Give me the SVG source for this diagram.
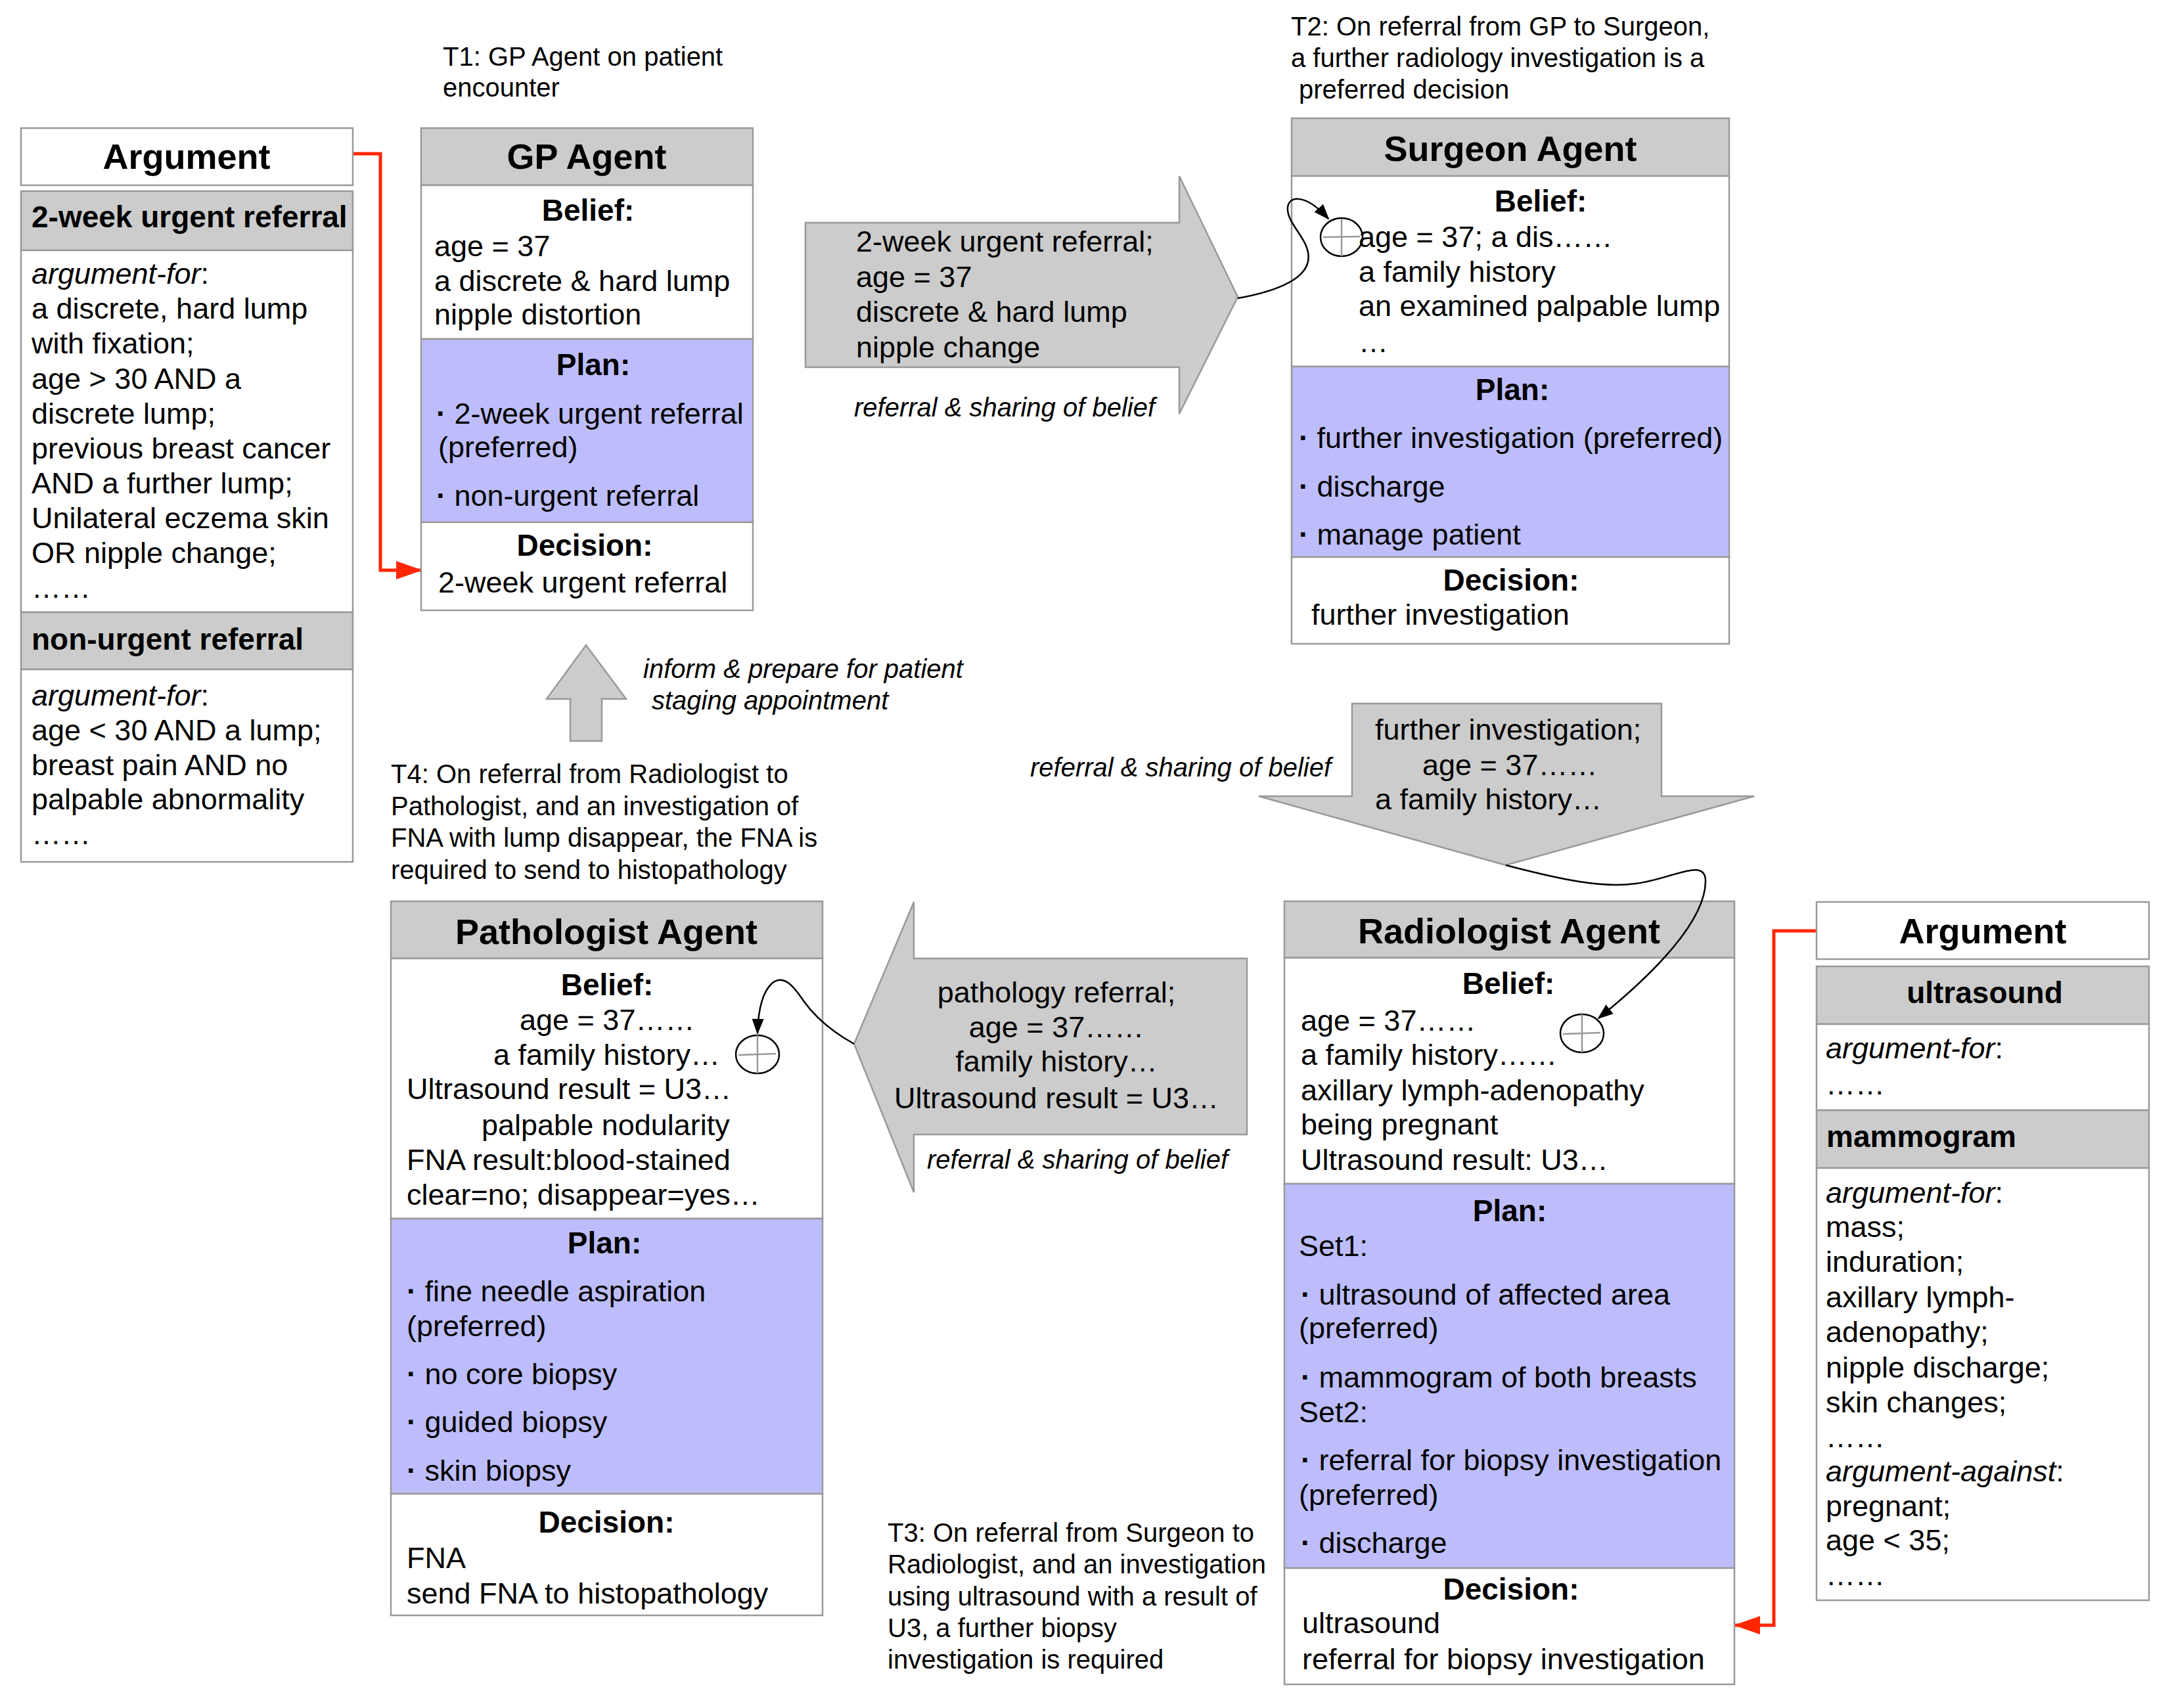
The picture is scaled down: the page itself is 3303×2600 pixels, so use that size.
<svg xmlns="http://www.w3.org/2000/svg" width="3303" height="2600" viewBox="0 0 3303 2600">
<style>
text{font-family:"Liberation Sans",Arial,Helvetica,sans-serif;font-size:45px;fill:#000}
.s{stroke:#999;stroke-width:2.5}
.h{fill:#ccc}
.w{fill:#fff}
.p{fill:#bdbdfb}
.t{font-size:54px;font-weight:bold;text-anchor:middle}
.b{font-size:46px;font-weight:bold}
.c{text-anchor:middle}
.i{font-style:italic}
.n{font-size:40px}
.d{font-weight:bold}
.red{fill:none;stroke:#ff2600;stroke-width:5}
.crv{fill:none;stroke:#000;stroke-width:2.5}
.blk{fill:#ccc;stroke:#999;stroke-width:2.5}
.cir{fill:none;stroke:#000;stroke-width:2.5}
.crs{stroke:#999;stroke-width:2.5}
</style>
<defs>
<marker id="ra" markerUnits="userSpaceOnUse" markerWidth="40" markerHeight="28" refX="38" refY="14" orient="auto"><path d="M0,0 L40,14 L0,28 z" fill="#ff2600"/></marker>
<marker id="ba" markerUnits="userSpaceOnUse" markerWidth="24" markerHeight="18" refX="22" refY="9" orient="auto"><path d="M0,0 L24,9 L0,18 z" fill="#000"/></marker>
</defs>
<rect width="3303" height="2600" fill="#fff"/>

<g id="notes">
<text class="n" x="674" y="100">T1: GP Agent on patient</text>
<text class="n" x="674" y="147">encounter</text>
<text class="n" x="1965" y="54">T2: On referral from GP to Surgeon,</text>
<text class="n" x="1965" y="102">a further radiology investigation is a</text>
<text class="n" x="1977" y="150">preferred decision</text>
<text class="n" x="1351" y="2347">T3: On referral from Surgeon to</text>
<text class="n" x="1351" y="2395">Radiologist, and an investigation</text>
<text class="n" x="1351" y="2444">using ultrasound with a result of</text>
<text class="n" x="1351" y="2492">U3, a further biopsy</text>
<text class="n" x="1351" y="2540">investigation is required</text>
<text class="n" x="595" y="1192">T4: On referral from Radiologist to</text>
<text class="n" x="595" y="1241">Pathologist, and an investigation of</text>
<text class="n" x="595" y="1289">FNA with lump disappear, the FNA is</text>
<text class="n" x="595" y="1338">required to send to histopathology</text>
</g>

<g id="connectors">
<polygon class="blk" points="1226,339 1795,339 1795,268 1884,452 1795,630 1795,559 1226,559"/>
<text x="1303" y="383">2-week urgent referral;</text>
<text x="1303" y="437">age = 37</text>
<text x="1303" y="490">discrete &amp; hard lump</text>
<text x="1303" y="544">nipple change</text>
<text class="n i" x="1300" y="634">referral &amp; sharing of belief</text>

<polygon class="blk" points="868,1128 868,1064 832,1064 892,982 953,1064 916,1064 916,1128"/>
<text class="n i" x="979" y="1032">inform &amp; prepare for patient</text>
<text class="n i" x="992" y="1080">staging appointment</text>

<polygon class="blk" points="2058,1071 2529,1071 2529,1212 2670,1212 2292,1317 1916,1212 2058,1212"/>
<text x="2093" y="1126">further investigation;</text>
<text x="2165" y="1180">age = 37……</text>
<text x="2093" y="1232">a family history…</text>
<text class="n i" x="1568" y="1182">referral &amp; sharing of belief</text>

<polygon class="blk" points="1898,1459 1391,1459 1391,1373 1300,1589 1391,1815 1391,1727 1898,1727"/>
<text class="c" x="1608" y="1526">pathology referral;</text>
<text class="c" x="1608" y="1579">age = 37……</text>
<text class="c" x="1608" y="1631">family history…</text>
<text class="c" x="1608" y="1687">Ultrasound result = U3…</text>
<text class="n i" x="1411" y="1779">referral &amp; sharing of belief</text>

<path class="red" d="M537,234 H579 V868 H641" marker-end="url(#ra)"/>
<path class="red" d="M2766,1417 H2700 V2474 H2641" marker-end="url(#ra)"/>
</g>

<g id="argument-left">
<rect class="s w" x="32" y="195" width="505" height="87"/>
<rect class="s h" x="32" y="291" width="505" height="90"/>
<rect class="s w" x="32" y="381" width="505" height="551"/>
<rect class="s h" x="32" y="932" width="505" height="87"/>
<rect class="s w" x="32" y="1019" width="505" height="293"/>
<text class="t" x="284" y="257">Argument</text>
<text class="b" x="48" y="346">2-week urgent referral</text>
<text x="48" y="432"><tspan class="i">argument-for</tspan>:</text>
<text x="48" y="485">a discrete, hard lump</text>
<text x="48" y="538">with fixation;</text>
<text x="48" y="592">age &gt; 30 AND a</text>
<text x="48" y="645">discrete lump;</text>
<text x="48" y="698">previous breast cancer</text>
<text x="48" y="751">AND a further lump;</text>
<text x="48" y="804">Unilateral eczema skin</text>
<text x="48" y="857">OR nipple change;</text>
<text x="48" y="910">……</text>
<text class="b" x="48" y="989">non-urgent referral</text>
<text x="48" y="1074"><tspan class="i">argument-for</tspan>:</text>
<text x="48" y="1127">age &lt; 30 AND a lump;</text>
<text x="48" y="1180">breast pain AND no</text>
<text x="48" y="1232">palpable abnormality</text>
<text x="48" y="1285">……</text>
</g>

<g id="gp-agent">
<rect class="s h" x="641" y="195" width="505" height="87"/>
<rect class="s w" x="641" y="282" width="505" height="234"/>
<rect class="s p" x="641" y="516" width="505" height="279"/>
<rect class="s w" x="641" y="795" width="505" height="134"/>
<text class="t" x="893" y="257">GP Agent</text>
<text class="b c" x="895" y="336">Belief:</text>
<text x="661" y="390">age = 37</text>
<text x="661" y="443">a discrete &amp; hard lump</text>
<text x="661" y="494">nipple distortion</text>
<text class="b c" x="903" y="571">Plan:</text>
<text x="664" y="645"><tspan class="d">·</tspan> 2-week urgent referral</text>
<text x="667" y="696">(preferred)</text>
<text x="664" y="770"><tspan class="d">·</tspan> non-urgent referral</text>
<text class="b c" x="890" y="846">Decision:</text>
<text x="667" y="902">2-week urgent referral</text>
</g>

<g id="surgeon-agent">
<rect class="s h" x="1966" y="180" width="666" height="88"/>
<rect class="s w" x="1966" y="268" width="666" height="290"/>
<rect class="s p" x="1966" y="558" width="666" height="290"/>
<rect class="s w" x="1966" y="848" width="666" height="132"/>
<text class="t" x="2299" y="245">Surgeon Agent</text>
<text class="b c" x="2345" y="322">Belief:</text>
<text x="2068" y="376">age = 37; a dis……</text>
<text x="2068" y="429">a family history</text>
<text x="2068" y="481">an examined palpable lump</text>
<text x="2068" y="536">…</text>
<text class="b c" x="2302" y="609">Plan:</text>
<text x="1977" y="682"><tspan class="d">·</tspan> further investigation (preferred)</text>
<text x="1977" y="756"><tspan class="d">·</tspan> discharge</text>
<text x="1977" y="829"><tspan class="d">·</tspan> manage patient</text>
<text class="b c" x="2300" y="899">Decision:</text>
<text x="1996" y="951">further investigation</text>
<ellipse class="cir" cx="2042" cy="361" rx="32" ry="29"/>
<line class="crs" x1="2014" y1="361" x2="2070" y2="360"/>
<line class="crs" x1="2042" y1="333" x2="2042" y2="390"/>
</g>

<g id="radiologist-agent">
<rect class="s h" x="1955" y="1372" width="685" height="86"/>
<rect class="s w" x="1955" y="1458" width="685" height="344"/>
<rect class="s p" x="1955" y="1802" width="685" height="585"/>
<rect class="s w" x="1955" y="2387" width="685" height="177"/>
<text class="t" x="2297" y="1436">Radiologist Agent</text>
<text class="b c" x="2296" y="1513">Belief:</text>
<text x="1980" y="1569">age = 37……</text>
<text x="1980" y="1621">a family history……</text>
<text x="1980" y="1675">axillary lymph-adenopathy</text>
<text x="1980" y="1727">being pregnant</text>
<text x="1980" y="1781">Ultrasound result: U3…</text>
<text class="b c" x="2298" y="1859">Plan:</text>
<text x="1977" y="1912">Set1:</text>
<text x="1980" y="1986"><tspan class="d">·</tspan> ultrasound of affected area</text>
<text x="1977" y="2037">(preferred)</text>
<text x="1980" y="2112"><tspan class="d">·</tspan> mammogram of both breasts</text>
<text x="1977" y="2165">Set2:</text>
<text x="1980" y="2238"><tspan class="d">·</tspan> referral for biopsy investigation</text>
<text x="1977" y="2291">(preferred)</text>
<text x="1980" y="2364"><tspan class="d">·</tspan> discharge</text>
<text class="b c" x="2300" y="2435">Decision:</text>
<text x="1982" y="2486">ultrasound</text>
<text x="1982" y="2541">referral for biopsy investigation</text>
<ellipse class="cir" cx="2408" cy="1573" rx="33" ry="29"/>
<line class="crs" x1="2379" y1="1574" x2="2436" y2="1572"/>
<line class="crs" x1="2408" y1="1544" x2="2408" y2="1602"/>
</g>

<g id="pathologist-agent">
<rect class="s h" x="595" y="1372" width="657" height="87"/>
<rect class="s w" x="595" y="1459" width="657" height="396"/>
<rect class="s p" x="595" y="1855" width="657" height="419"/>
<rect class="s w" x="595" y="2274" width="657" height="185"/>
<text class="t" x="923" y="1437">Pathologist Agent</text>
<text class="b c" x="924" y="1515">Belief:</text>
<text x="791" y="1568">age = 37……</text>
<text x="751" y="1621">a family history…</text>
<text x="619" y="1673">Ultrasound result = U3…</text>
<text x="733" y="1728">palpable nodularity</text>
<text x="619" y="1781">FNA result:blood-stained</text>
<text x="619" y="1834">clear=no; disappear=yes…</text>
<text class="b c" x="920" y="1908">Plan:</text>
<text x="619" y="1981"><tspan class="d">·</tspan> fine needle aspiration</text>
<text x="619" y="2034">(preferred)</text>
<text x="619" y="2107"><tspan class="d">·</tspan> no core biopsy</text>
<text x="619" y="2180"><tspan class="d">·</tspan> guided biopsy</text>
<text x="619" y="2254"><tspan class="d">·</tspan> skin biopsy</text>
<text class="b c" x="923" y="2333">Decision:</text>
<text x="619" y="2387">FNA</text>
<text x="619" y="2441">send FNA to histopathology</text>
<ellipse class="cir" cx="1153" cy="1605" rx="33" ry="29"/>
<line class="crs" x1="1124" y1="1606" x2="1181" y2="1604"/>
<line class="crs" x1="1153" y1="1576" x2="1153" y2="1634"/>
</g>

<g id="argument-right">
<rect class="s w" x="2765" y="1373" width="506" height="87"/>
<rect class="s h" x="2765" y="1471" width="506" height="88"/>
<rect class="s w" x="2765" y="1559" width="506" height="131"/>
<rect class="s h" x="2765" y="1690" width="506" height="88"/>
<rect class="s w" x="2765" y="1778" width="506" height="658"/>
<text class="t" x="3018" y="1436">Argument</text>
<text class="b c" x="3021" y="1527">ultrasound</text>
<text x="2779" y="1611"><tspan class="i">argument-for</tspan>:</text>
<text x="2779" y="1666">……</text>
<text class="b" x="2780" y="1746">mammogram</text>
<text x="2779" y="1831"><tspan class="i">argument-for</tspan>:</text>
<text x="2779" y="1883">mass;</text>
<text x="2779" y="1936">induration;</text>
<text x="2779" y="1990">axillary lymph-</text>
<text x="2779" y="2043">adenopathy;</text>
<text x="2779" y="2097">nipple discharge;</text>
<text x="2779" y="2150">skin changes;</text>
<text x="2779" y="2203">……</text>
<text x="2779" y="2255"><tspan class="i">argument-against</tspan>:</text>
<text x="2779" y="2308">pregnant;</text>
<text x="2779" y="2360">age &lt; 35;</text>
<text x="2779" y="2413">……</text>
</g>

<g id="belief-links">
<path class="crv" d="M1884,454 C1935,445 1985,428 1991,398 C1997,368 1962,345 1960,320 C1958,298 1985,292 2022,333" marker-end="url(#ba)"/>
<path class="crv" d="M2292,1317 C2380,1340 2440,1352 2490,1345 C2545,1338 2595,1305 2596,1340 C2597,1400 2520,1480 2433,1550" marker-end="url(#ba)"/>
<path class="crv" d="M1300,1589 C1262,1568 1238,1545 1222,1522 C1206,1498 1192,1484 1176,1496 C1162,1508 1154,1535 1153,1573" marker-end="url(#ba)"/>
</g>
</svg>
